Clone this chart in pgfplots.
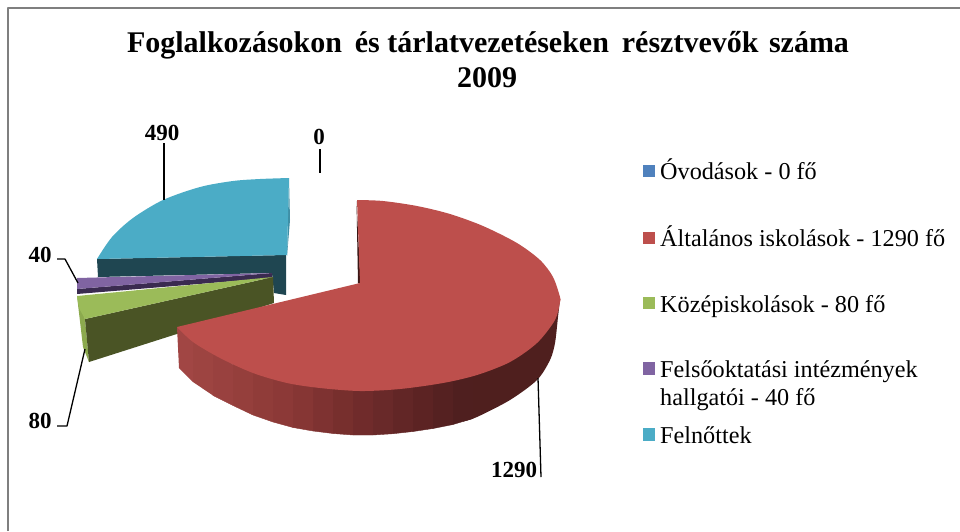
\documentclass[border=0pt]{standalone}
\usepackage{pgfplots}
\pgfplotsset{compat=1.18}
\usepackage{fontspec}
\setmainfont{Liberation Serif}
\definecolor{cblue}{HTML}{4F81BD}
\definecolor{cred}{HTML}{BD4F4C}
\definecolor{cgreen}{HTML}{9BBB59}
\definecolor{cgreenr}{HTML}{8CAA4E}
\definecolor{cgreend}{HTML}{4A5425}
\definecolor{cpurple}{HTML}{8064A2}
\definecolor{cpurpled}{HTML}{3A2B50}
\definecolor{cteal}{HTML}{4BACC6}
\definecolor{ctealr}{HTML}{3F8FA6}
\definecolor{ctead}{HTML}{1F4651}
\definecolor{cgray}{HTML}{7F7F7F}
\definecolor{credd}{HTML}{3A1615}
\definecolor{credside}{HTML}{4F1F1E}
\newcommand{\strip}[7]{\addplot[fill={rgb,1:red,#5;green,#6;blue,#7}, draw={rgb,1:red,#5;green,#6;blue,#7}, line width=0.4pt] coordinates {(#1,#2) (#3,#4) (#3,365) (#1,345)} -- cycle;}
\begin{document}
\begin{tikzpicture}
\begin{axis}[
  scale only axis, width=960pt, height=531pt,
  xmin=0, xmax=960, ymin=0, ymax=531, y dir=reverse,
  hide axis, clip=true,
  every axis plot/.append style={line join=round},
]
\path (axis cs:0,0) rectangle (axis cs:960,531);
% frame
\addplot[cgray, line width=2pt] coordinates {(7.5,531) (7.5,8) (960,8)};
% teal slice (490)
\addplot[fill=ctead, draw=none] coordinates {(97,259) (286,255) (286,295) (274,293) (272,273) (98,277)} -- cycle;
\addplot[fill=ctealr, draw=none] coordinates {(289,178) (290,220) (287,256)} -- cycle;
\addplot[fill=cteal, draw=none, smooth] coordinates {(289,178) (260,179) (233,181) (200,187) (163,200) (133,218) (112,237) (97,259)} -- (axis cs:287,255) -- cycle;
% purple slice (40)
\addplot[fill=cpurpled, draw=none] coordinates {(77,289) (272,273) (272,278) (77,294)} -- cycle;
\addplot[fill=cpurple, draw=none] coordinates {(77,278) (272,273) (77,289)} -- cycle;
% green slice (80)
\addplot[fill=cgreenr, draw=none] coordinates {(77,296) (85,319) (89,362) (83,347)} -- cycle;
\addplot[fill=cgreend, draw=none] coordinates {(85,319) (273,277) (274,303) (89,362)} -- cycle;
\addplot[fill=cgreen, draw=none] coordinates {(273,277) (77,296) (79,308) (85,319)} -- cycle;
% red slice (1290): side, darkening to the right
\addplot[fill=credside, draw=none, smooth] coordinates {(560,300) (558,317) (555,343) (550,360) (537,380) (510,400) (477,417) (463,421.5)} -- (axis cs:463,370) -- cycle;
\strip{453}{424.5}{473}{418.5}{.31}{.12}{.12}
\strip{433}{428.5}{453}{424.5}{.332}{.129}{.129}
\strip{413}{431.5}{433}{428.5}{.359}{.139}{.139}
\strip{393}{433.7}{413}{431.5}{.385}{.149}{.149}
\strip{373}{435}{393}{433.7}{.41}{.159}{.159}
\strip{353}{435}{373}{435}{.44}{.17}{.17}
\strip{333}{433.5}{353}{435}{.466}{.183}{.178}
\strip{313}{431}{333}{433.5}{.495}{.198}{.192}
\strip{293}{427.5}{313}{431}{.524}{.212}{.204}
\strip{273}{422}{293}{427.5}{.548}{.225}{.215}
\strip{253}{415}{273}{422}{.565}{.235}{.225}
\strip{233}{405.5}{253}{415}{.583}{.246}{.236}
\strip{213}{395.5}{233}{405.5}{.60}{.256}{.246}
\addplot[fill={rgb,1:red,.617;green,.266;blue,.256}, draw=none] coordinates {(193,382) (213,395.5) (213,350) (193,338)} -- cycle;
\addplot[fill={rgb,1:red,.632;green,.275;blue,.265}, draw=none] coordinates {(179,368) (193,382) (193,338) (177,327)} -- cycle;
\addplot[fill=credd, draw=none] coordinates {(356.5,201) (360.5,283) (358,283.5)} -- cycle;
\addplot[fill=cred, draw=none, smooth] coordinates {(357,200) (383,201) (417,206) (450,214) (483,226) (517,243) (540,260) (553,277) (560,297) (560,302) (555,320) (537,343) (510,362) (477,375) (443,383) (400,389) (360,391) (320,388) (287,383) (253,373) (220,358) (193,342) (177,327)} -- (axis cs:360,283) -- cycle;
% leader lines
\addplot[black, line width=1.3pt] coordinates {(164,143) (164,200)};
\addplot[black, line width=1.3pt] coordinates {(320,149) (320,173)};
\addplot[black, line width=1.3pt] coordinates {(57,259) (65,259) (78,283)};
\addplot[black, line width=1.3pt] coordinates {(57,426) (67,426) (85,349)};
\addplot[black, line width=1.3pt] coordinates {(538,378) (541,477)};
% legend keys
\addplot[fill=cblue, draw=none] coordinates {(643,165) (655,165) (655,177) (643,177)} -- cycle;
\addplot[fill=cred, draw=none] coordinates {(643,232) (655,232) (655,244) (643,244)} -- cycle;
\addplot[fill=cgreen, draw=none] coordinates {(643,297) (655,297) (655,309) (643,309)} -- cycle;
\addplot[fill=cpurple, draw=none] coordinates {(643,362) (655,362) (655,375) (643,375)} -- cycle;
\addplot[fill=cteal, draw=none] coordinates {(643,428) (655,428) (655,441) (643,441)} -- cycle;
% title
\node[anchor=base, inner sep=0pt] at (axis cs:488,52) {\fontsize{30}{36}\selectfont\bfseries Foglalkozásokon\hspace{0.18em} és tárlatvezetéseken\hspace{0.18em} résztvevők\hspace{0.1em} száma};
\node[anchor=base, inner sep=0pt] at (axis cs:487,87) {\fontsize{30}{36}\selectfont\bfseries 2009};
% data labels
\node[anchor=base, inner sep=0pt] at (axis cs:162,140) {\fontsize{23}{27}\selectfont\bfseries 490};
\node[anchor=base, inner sep=0pt] at (axis cs:319,144) {\fontsize{23}{27}\selectfont\bfseries 0};
\node[anchor=base, inner sep=0pt] at (axis cs:40,262) {\fontsize{23}{27}\selectfont\bfseries 40};
\node[anchor=base, inner sep=0pt] at (axis cs:40,428) {\fontsize{23}{27}\selectfont\bfseries 80};
\node[anchor=base, inner sep=0pt] at (axis cs:514,477) {\fontsize{23}{27}\selectfont\bfseries 1290};
% legend text
\newcommand{\lt}[3]{\node[anchor=base west, inner sep=0pt] at (axis cs:#1,#2) {\fontsize{24.2}{28}\selectfont #3};}
\lt{660}{179}{Óvodások - 0 fő}
\lt{660}{246}{Általános iskolások - 1290 fő}
\lt{660}{312}{Középiskolások - 80 fő}
\lt{660}{377}{Felsőoktatási intézmények}
\lt{660}{405}{hallgatói - 40 fő}
\lt{660}{443}{Felnőttek}
\end{axis}
\end{tikzpicture}
\end{document}
